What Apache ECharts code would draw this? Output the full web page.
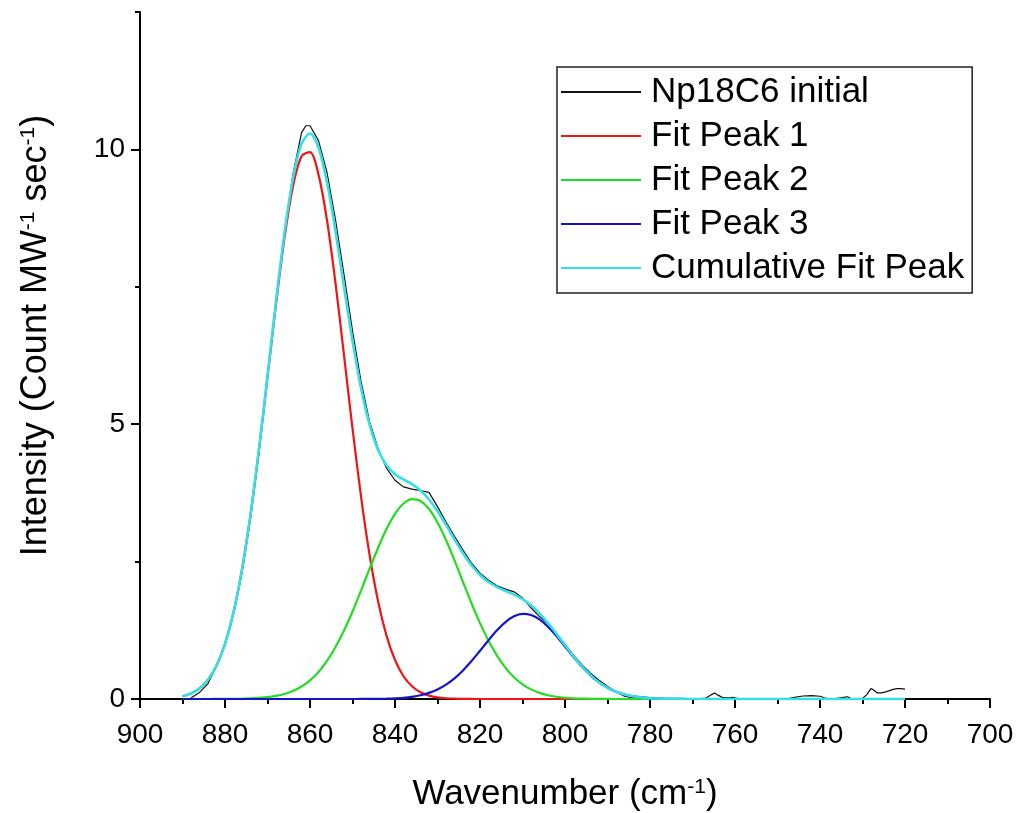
<!DOCTYPE html>
<html>
<head>
<meta charset="utf-8">
<script src="https://cdn.jsdelivr.net/npm/echarts@6/dist/echarts.min.js"></script>
<style>
html,body{margin:0;padding:0;background:#fff;}
#chart{width:1021px;height:813px;}
</style>
</head>
<body>
<div id="chart"></div>
<script>
// Measured spectrum (wavenumber, intensity)
const dataX = [888,886,884,882,880,878,876,874,872,870,868,866,864,862,861,860,858,856,854,852,850,848,846,844,842,840,838,836,834,832,830,828,826,824,822,820,818,816,814,812,810,808,806,804,802,800,798,796,794,792,790,788,786,784,782,780,770,767,765.5,764.8,764,763,761.5,760.5,759.5,757,748,746,744,742,740,738.5,737,734.5,733.5,732.5,730,729,728,727.5,726.5,725.5,724.5,723,722,721,720];
const dataY = [0.02,0.12,0.28,0.60,1.00,1.56,2.30,3.28,4.50,5.86,7.24,8.50,9.55,10.30,10.43,10.43,10.16,9.58,8.72,7.72,6.70,5.78,5.05,4.56,4.20,3.98,3.86,3.82,3.79,3.76,3.50,3.22,2.96,2.71,2.47,2.29,2.16,2.06,2.00,1.95,1.84,1.66,1.50,1.37,1.19,1.00,0.80,0.62,0.47,0.34,0.23,0.13,0.05,0.02,0.01,0.00,0.00,0.01,0.08,0.11,0.07,0.03,0.02,0.03,0.01,0.00,0.00,0.03,0.055,0.06,0.05,0.01,0.00,0.03,0.04,0.00,0.01,0.08,0.19,0.17,0.11,0.11,0.13,0.17,0.19,0.19,0.18];

// Fit curves sampled on a common wavenumber grid
const fitX = [890,888,886,884,882,880,878,876,874,872,870,868,866,864,862,860,858,856,854,852,850,848,846,844,842,840,838,836,834,832,830,828,826,824,822,820,818,816,814,812,810,808,806,804,802,800,798,796,794,792,790,788,786,784,782,780,778,776,774,772,770,768,766,764,762,760,758,756,754,752,750,748,746,744,742,740,738,736,734,732,730,728,726,724,722,720];
const peak1 = [0.050,0.100,0.192,0.350,0.606,1.001,1.573,2.352,3.349,4.538,5.851,7.183,8.391,9.331,9.876,9.950,9.541,8.708,7.565,6.255,4.923,3.687,2.629,1.784,1.153,0.709,0.414,0.231,0.122,0.062,0.030,0.014,0.006,0.002,0.001,0,0,0,0,0,0,0,0,0,0,0,0,0,0,0,0,0,0,0,0,0,0,0,0,0,0,0,0,0,0,0,0,0,0,0,0,0,0,0,0,0,0,0,0,0,0,0,0,0,0,0];
const peak2 = [0,0,0,0,0.001,0.001,0.003,0.006,0.010,0.019,0.033,0.056,0.092,0.147,0.227,0.340,0.493,0.693,0.945,1.247,1.593,1.973,2.366,2.748,3.092,3.370,3.557,3.638,3.603,3.457,3.213,2.892,2.521,2.129,1.742,1.380,1.060,0.788,0.567,0.396,0.268,0.175,0.111,0.068,0.041,0.023,0.013,0.007,0.004,0.002,0.001,0,0,0,0,0,0,0,0,0,0,0,0,0,0,0,0,0,0,0,0,0,0,0,0,0,0,0,0,0,0,0,0,0,0,0];
const peak3 = [0,0,0,0,0,0,0,0,0,0,0,0,0,0,0,0,0,0,0,0,0.000,0.001,0.002,0.003,0.006,0.012,0.022,0.040,0.068,0.111,0.173,0.261,0.376,0.520,0.690,0.877,1.069,1.249,1.400,1.504,1.549,1.529,1.448,1.314,1.144,0.954,0.763,0.586,0.431,0.304,0.205,0.133,0.083,0.049,0.028,0.015,0.008,0.004,0.002,0.001,0,0,0,0,0,0,0,0,0,0,0,0,0,0,0,0,0,0,0,0,0,0,0,0,0,0];
const cumulative = [0.050,0.100,0.192,0.350,0.607,1.002,1.576,2.358,3.359,4.557,5.884,7.239,8.483,9.478,10.103,10.290,10.034,9.401,8.510,7.502,6.516,5.661,4.997,4.535,4.251,4.091,3.993,3.909,3.793,3.630,3.416,3.167,2.903,2.651,2.433,2.257,2.129,2.037,1.967,1.900,1.817,1.704,1.559,1.382,1.185,0.977,0.776,0.593,0.435,0.306,0.206,0.133,0.083,0.049,0.028,0.015,0.008,0.004,0.002,0.001,0,0,0,0,0,0,0,0,0,0,0,0,0,0,0,0,0,0,0,0,0,0,0,0,0,0];

const seriesNames = ['Np18C6 initial','Fit Peak 1','Fit Peak 2','Fit Peak 3','Cumulative Fit Peak'];
const xTicks = {min:700, max:900, interval:20};
const yMajor = [0,5,10];
const yMinor = [2.5,7.5,12.5];

const zip = (xs, ys) => xs.map((x, i) => [x, ys[i]]);
const font = "'Liberation Sans', Arial, sans-serif";
const supRich = {s: {fontSize: 21, verticalAlign: 'top', fontFamily: font, color: '#000'}};

const chart = echarts.init(document.getElementById('chart'), null, {renderer: 'canvas'});
const axisLineStyle = {color: '#000', width: 2};

chart.setOption({
  animation: false,
  backgroundColor: '#fff',
  textStyle: {fontFamily: font},
  grid: {left: 140, right: 31, top: 12, bottom: 114, containLabel: false, outerBoundsMode: 'none'},
  legend: {
    data: seriesNames,
    orient: 'vertical',
    left: 557, top: 67,
    icon: 'rect',
    itemWidth: 80, itemHeight: 2, itemGap: 0,
    padding: [3, 8, 3, 4],
    borderColor: '#222', borderWidth: 1.5,
    textStyle: {fontSize: 35, lineHeight: 44, color: '#000', fontFamily: font, padding: [0,0,0,5]}
  },
  xAxis: {
    type: 'value', min: xTicks.min, max: xTicks.max, interval: xTicks.interval, inverse: true,
    axisLine: {show: true, lineStyle: axisLineStyle},
    axisTick: {show: true, length: 9, lineStyle: axisLineStyle},
    minorTick: {show: true, splitNumber: 2, length: 5, lineStyle: axisLineStyle},
    axisLabel: {fontSize: 28, color: '#000', margin: 22, fontFamily: font},
    splitLine: {show: false}, minorSplitLine: {show: false},
    name: 'Wavenumber (cm{s|-1})', nameLocation: 'middle', nameGap: 78,
    nameTextStyle: {fontSize: 35, color: '#000', fontFamily: font, rich: supRich}
  },
  yAxis: [{
    type: 'value', min: 0, max: 12.5, interval: 5,
    axisLine: {show: true, lineStyle: axisLineStyle},
    axisTick: {show: true, length: 9, lineStyle: axisLineStyle, customValues: yMajor},
    axisLabel: {fontSize: 28, color: '#000', margin: 15, fontFamily: font, customValues: yMajor},
    splitLine: {show: false},
    name: 'Intensity (Count MW{s|-1} sec{s|-1})', nameLocation: 'middle', nameGap: 86,
    nameTextStyle: {fontSize: 36, color: '#000', fontFamily: font, rich: supRich, padding: [0, 0, 0, 40]}
  }, {
    type: 'value', min: 0, max: 12.5, position: 'left', offset: 0,
    axisLine: {show: false},
    axisTick: {show: true, length: 5, lineStyle: axisLineStyle, customValues: yMinor},
    axisLabel: {show: false},
    splitLine: {show: false}
  }],
  series: [
    {name: seriesNames[0], type: 'line', data: zip(dataX, dataY), symbol: 'none', lineStyle: {color: '#111', width: 1.2}, itemStyle: {color: '#111'}},
    {name: seriesNames[1], type: 'line', data: zip(fitX, peak1), symbol: 'none', smooth: 0.3, lineStyle: {color: '#f01414', width: 2.2}, itemStyle: {color: '#f01414'}},
    {name: seriesNames[2], type: 'line', data: zip(fitX, peak2), symbol: 'none', smooth: 0.3, lineStyle: {color: '#22dd22', width: 2.2}, itemStyle: {color: '#22dd22'}},
    {name: seriesNames[3], type: 'line', data: zip(fitX, peak3), symbol: 'none', smooth: 0.3, lineStyle: {color: '#1414c8', width: 2.2}, itemStyle: {color: '#1414c8'}},
    {name: seriesNames[4], type: 'line', data: zip(fitX, cumulative), symbol: 'none', smooth: 0.3, lineStyle: {color: '#33e0e8', width: 2.6}, itemStyle: {color: '#33e0e8'}}
  ]
});
</script>
</body>
</html>
